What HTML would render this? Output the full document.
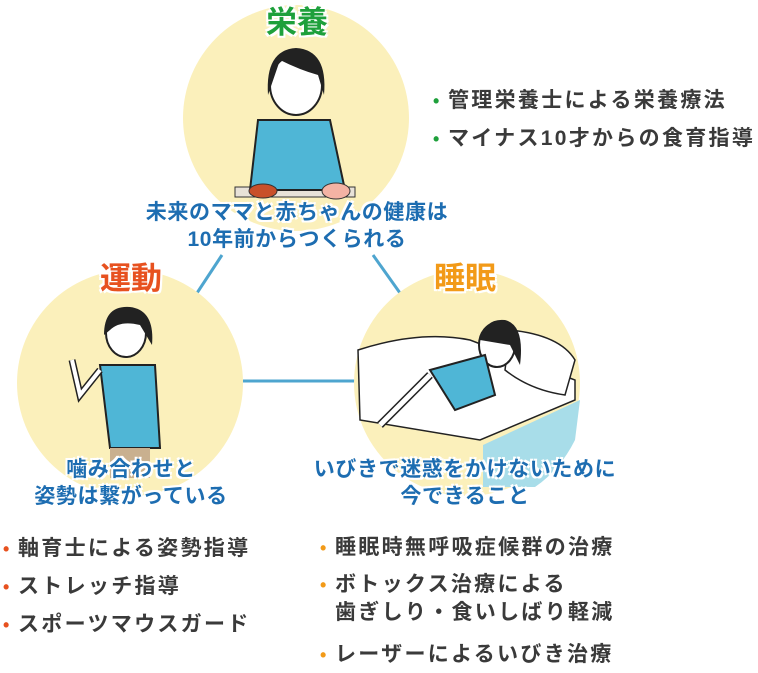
<!DOCTYPE html>
<html><head><meta charset="utf-8"><style>
body{margin:0;width:758px;height:673px;background:#fff;position:relative;overflow:hidden;font-family:"Liberation Sans","Noto Sans CJK JP",sans-serif;}
.t{position:absolute;font-weight:bold;white-space:nowrap;}
.h{font-size:31px;line-height:36px;text-shadow:0 0 3px #fff,0 0 3px #fff,2px 2px 0 #fff,-2px -2px 0 #fff,2px -2px 0 #fff,-2px 2px 0 #fff;transform:translateX(-50%);}
.c{color:#1d6db1;font-size:21px;letter-spacing:0.6px;line-height:27px;text-align:center;transform:translateX(-50%);text-shadow:0 0 3px #fff,2px 2px 0 #fff,-2px -2px 0 #fff,2px -2px 0 #fff,-2px 2px 0 #fff;}
.l{position:absolute;color:#3a3a3a;font-size:21px;letter-spacing:2.3px;font-weight:bold;line-height:26px;white-space:nowrap;}
.l span{display:inline-block;width:15px;font-size:18px;letter-spacing:0;}
</style></head><body>
<svg width="758" height="673" style="position:absolute;left:0;top:0">
<line x1="197" y1="293" x2="222" y2="255" stroke="#4ea5cf" stroke-width="3"/>
<line x1="373" y1="255" x2="400" y2="293" stroke="#4ea5cf" stroke-width="3"/>
<line x1="243" y1="381" x2="357" y2="381" stroke="#4ea5cf" stroke-width="3"/>
<circle cx="296" cy="118" r="113" fill="#fbf0bb"/>
<circle cx="130" cy="383" r="113" fill="#fbf0bb"/>
<circle cx="467" cy="383" r="113" fill="#fbf0bb"/>
<rect x="235" y="187" width="120" height="10" fill="#e8e2d8" stroke="#333"/>
<path d="M258 120 L330 120 L345 190 L250 190 Z" fill="#4fb6d6" stroke="#222" stroke-width="2"/>
<ellipse cx="296" cy="85" rx="26" ry="30" fill="#fff" stroke="#222" stroke-width="2"/>
<path d="M268 95 Q265 50 296 48 Q328 50 324 95 L318 75 Q300 70 280 60 Z" fill="#222"/>
<ellipse cx="263" cy="191" rx="14" ry="7" fill="#c8502a" stroke="#333"/>
<ellipse cx="336" cy="191" rx="14" ry="8" fill="#f4b3a4" stroke="#333"/>
<path d="M100 365 L155 365 L160 448 L110 448 Z" fill="#4fb6d6" stroke="#222" stroke-width="2"/>
<ellipse cx="126" cy="333" rx="20" ry="24" fill="#fff" stroke="#222" stroke-width="2"/>
<path d="M104 335 Q104 305 130 307 Q155 310 152 345 L140 325 Q120 320 110 330 Z" fill="#222"/>
<path d="M100 370 L80 395 L72 360" fill="none" stroke="#222" stroke-width="7"/>
<path d="M100 370 L80 395 L72 360" fill="none" stroke="#fff" stroke-width="4"/>
<rect x="110" y="448" width="40" height="30" fill="#c9b08f"/>
<path d="M358 350 Q420 330 470 340 L575 380 L575 400 L480 440 L360 420 Z" fill="#fff" stroke="#222" stroke-width="1.5"/>
<path d="M483 445 L580 400 L575 440 Q560 470 535 487 L483 487 Z" fill="#a8dde9"/>
<path d="M510 330 Q560 335 575 360 L565 395 Q530 390 505 370 Z" fill="#fff" stroke="#222" stroke-width="1.5"/>
<ellipse cx="497" cy="345" rx="18" ry="22" fill="#fff" stroke="#222" stroke-width="2"/>
<path d="M480 340 Q485 318 505 320 Q525 325 520 365 L510 345 Z" fill="#222"/>
<path d="M430 370 L485 355 L495 395 L455 410 Z" fill="#4fb6d6" stroke="#222" stroke-width="2"/>
<path d="M430 375 L380 425" stroke="#222" stroke-width="8"/><path d="M430 375 L380 425" stroke="#fff" stroke-width="5"/>
</svg>
<div class="t h" style="left:297px;top:5px;color:#1ea03b">栄養</div>
<div class="t h" style="left:131px;top:261px;color:#e7511f">運動</div>
<div class="t h" style="left:465px;top:261px;color:#f29a18">睡眠</div>
<div class="t c" style="left:297px;top:199px">未来のママと赤ちゃんの健康は<br>10年前からつくられる</div>
<div class="t c" style="left:131px;top:456px">噛み合わせと<br>姿勢は繋がっている</div>
<div class="t c" style="left:465px;top:456px">いびきで迷惑をかけないために<br>今できること</div>
<div class="l" style="left:433px;top:82px;line-height:37px"><span style="color:#1ea03b">•</span>管理栄養士による栄養療法<br><span style="color:#1ea03b">•</span>マイナス10才からの食育指導</div>
<div class="l" style="left:3px;top:530px;line-height:38px"><span style="color:#e7511f">•</span>軸育士による姿勢指導<br><span style="color:#e7511f">•</span>ストレッチ指導<br><span style="color:#e7511f">•</span>スポーツマウスガード</div>
<div class="l" style="left:320px;top:535px"><span style="color:#f29a18">•</span>睡眠時無呼吸症候群の治療</div>
<div class="l" style="left:320px;top:572px"><span style="color:#f29a18">•</span>ボトックス治療による</div>
<div class="l" style="left:335px;top:600px">歯ぎしり・食いしばり軽減</div>
<div class="l" style="left:320px;top:642px"><span style="color:#f29a18">•</span>レーザーによるいびき治療</div>
</body></html>
